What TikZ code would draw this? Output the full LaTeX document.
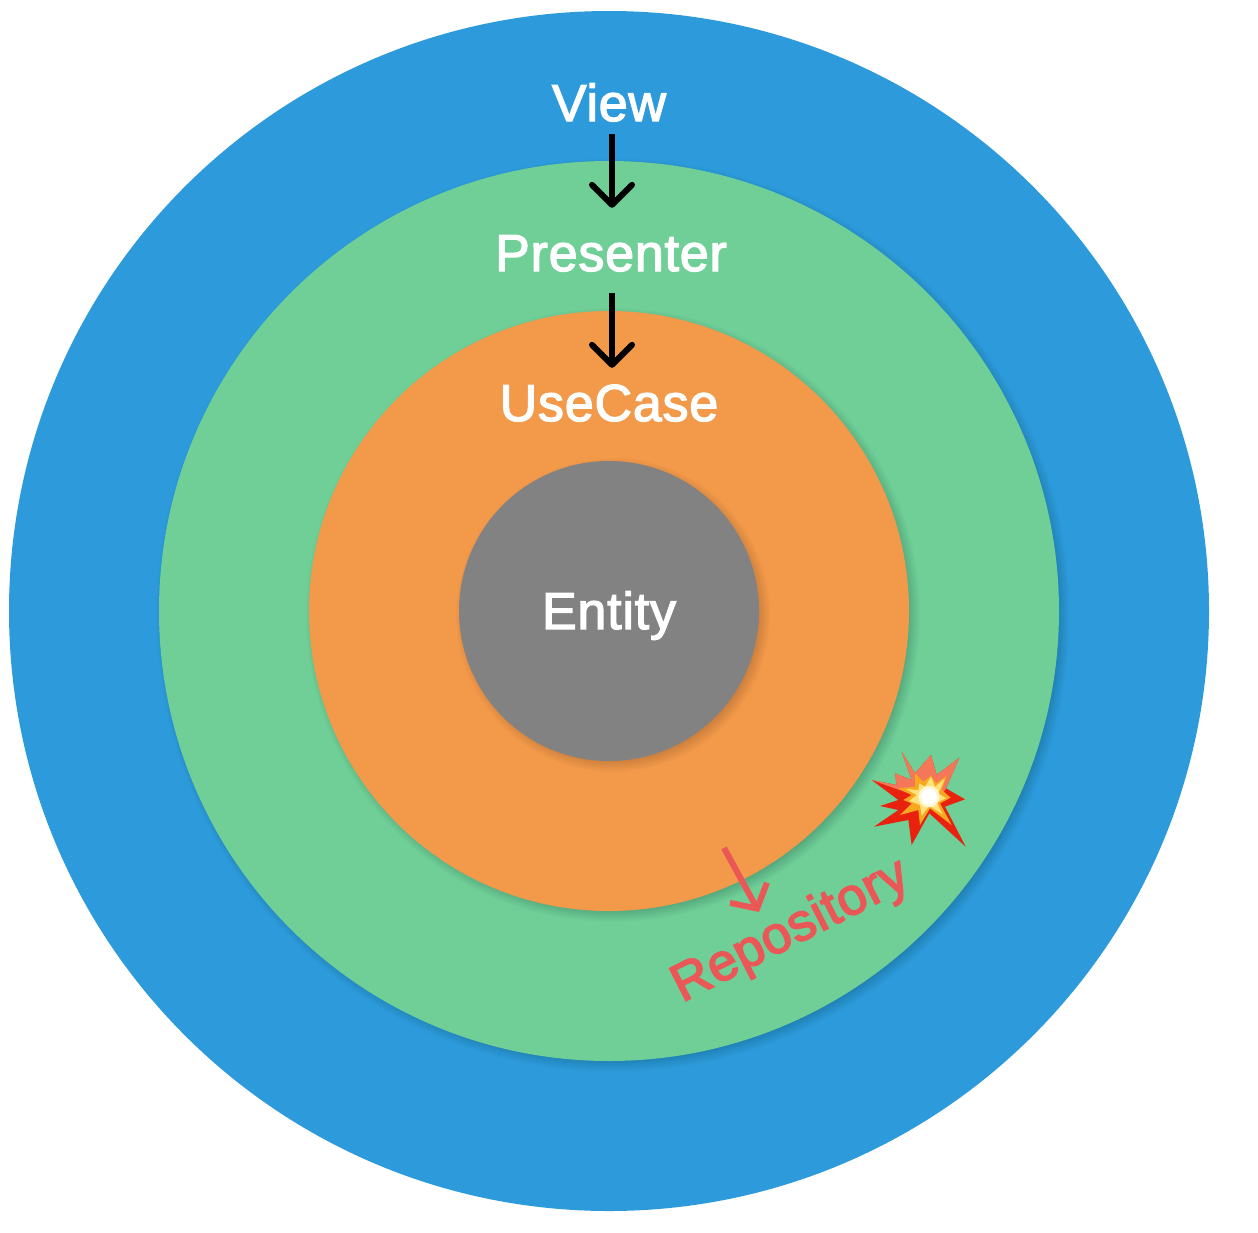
\documentclass[tikz,border=0pt]{standalone}
\usepackage{fontspec}
\setmainfont{Liberation Sans}
\newfontfamily\layerfont[FakeBold=2.5,LetterSpace=1.5]{Liberation Sans}
\newfontfamily\repofont[FakeBold=3,LetterSpace=1.5]{Liberation Sans}
\usetikzlibrary{arrows.meta,positioning}
\definecolor{viewblue}{HTML}{2D9BDB}
\definecolor{presentergreen}{HTML}{6FCF97}
\definecolor{caseorange}{HTML}{F2994A}
\definecolor{entitygray}{HTML}{828282}
\definecolor{repored}{HTML}{EB5757}
\definecolor{blastred}{HTML}{E8220F}
\definecolor{blastsalmon}{HTML}{F4775A}
\definecolor{blastorange}{HTML}{F7A81E}
\definecolor{blastyellow}{HTML}{FFE27A}
\tikzset{
    ring/.style = {circle, inner sep=0pt, minimum size=#1},
    layer/.style = {text=white, inner sep=0pt, font=\layerfont\fontsize{52}{52}\selectfont, text height=36pt, text depth=0pt},
    flow/.style = {line width=6pt, black, -{Straight Barb[length=20pt,width=40pt,round]}},
    crack/.style = {line width=6pt, repored, -{Straight Barb[length=18pt,width=42pt]}}
}
\newcommand{\softshadow}[1]{%
    \foreach \g in {0,...,15}
        \fill[black, opacity=0.012] (613,615) circle ({#1+7-\g});
}
\begin{document}
\begin{tikzpicture}[x=1pt, y=-1pt]
        \useasboundingbox (0,0) rectangle (1258,1232);
        % Place rings
        \node [ring=1200pt, fill=viewblue] (ViewRing) at (609,611) {};
        \softshadow{450}
        \node [ring=900pt, fill=presentergreen] (PresenterRing) at (609,611) {};
        \softshadow{300}
        \node [ring=600pt, fill=caseorange] (CaseRing) at (609,611) {};
        \softshadow{150}
        \node [ring=300pt, fill=entitygray] (EntityRing) at (609,611) {};
        % Place labels
        \node [layer] (View) at (609,103) {View};
        \node [layer] (Presenter) at (611,253) {Presenter};
        \node [layer] (UseCase) at (609,403) {UseCase};
        \node [layer] (Entity) at (609,611) {Entity};
        \node [text=repored, inner sep=0pt, rotate=27, font=\repofont\fontsize{52.5}{52.5}\selectfont] (Repository) at (791,932) {Repository};
        % Draw edges
        \draw [flow, shorten <=13pt, shorten >=27pt] ([xshift=3pt]View.south) -- ([xshift=1pt]Presenter.north);
        \draw [flow, shorten <=22pt, shorten >=17pt] ([xshift=1pt]Presenter.south) -- ([xshift=3pt]UseCase.north);
        \coordinate (crackStart) at (724,848);
        \coordinate (crackEnd) at (759,912);
        \draw [crack] (crackStart) -- (crackEnd);
        % Explosion
        \begin{scope}[shift={(870,745)}, x=0.3333pt, y=-0.3333pt]
            \fill [blastred] (95,20) -- (135,85) -- (183,30) -- (200,90) -- (268,38) -- (228,130) -- (285,163) -- (225,185) -- (287,305) -- (178,205) -- (125,300) -- (115,225) -- (12,245) -- (85,195) -- (30,183) -- (85,165) -- (5,105) -- (80,120) -- (75,85) -- (125,105) -- cycle;
            \fill [blastsalmon] (95,20) -- (135,85) -- (183,30) -- (200,90) -- (268,38) -- (228,130) -- (215,150) -- (130,150) -- (5,105) -- (80,120) -- (75,85) -- (125,105) -- cycle;
            \fill [blastorange] (135,85) -- (160,110) -- (183,92) -- (198,115) -- (230,92) -- (215,135) -- (242,158) -- (210,175) -- (245,240) -- (180,190) -- (150,240) -- (145,195) -- (90,210) -- (125,175) -- (100,165) -- (125,150) -- (85,130) -- (135,125) -- cycle;
            \fill [blastyellow] (148,115) -- (165,125) -- (183,95) -- (195,125) -- (225,100) -- (205,145) -- (228,160) -- (200,172) -- (218,208) -- (178,183) -- (155,212) -- (150,180) -- (118,168) -- (140,150) -- (108,132) -- (145,135) -- cycle;
            \fill [white!70!blastyellow] (177,155) circle (32);
            \fill [white] (177,155) circle (23);
        \end{scope}
    \end{tikzpicture}
\end{document}
